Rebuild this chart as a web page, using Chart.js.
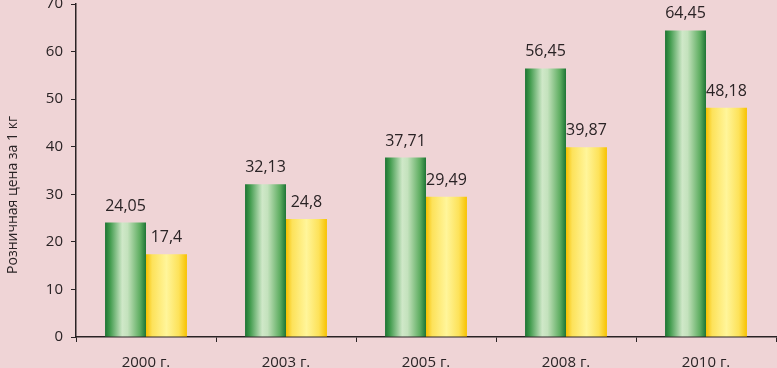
<!DOCTYPE html>
<html>
<head>
<meta charset="utf-8">
<script src="https://cdn.jsdelivr.net/npm/chart.js@4/dist/chart.umd.min.js"></script>
<style>
html,body{margin:0;padding:0;background:#efd4d6;}
#wrap{width:777px;height:368px;position:relative;}
</style>
</head>
<body>
<div id="wrap"><canvas id="c" width="777" height="368"></canvas></div>
<script>
const categories = ['2000 г.', '2003 г.', '2005 г.', '2008 г.', '2010 г.'];
const seriesGreen = [24.05, 32.13, 37.71, 56.45, 64.45];
const seriesYellow = [17.4, 24.8, 29.49, 39.87, 48.18];
const yTicks = [0, 10, 20, 30, 40, 50, 60, 70];
const yTitle = 'Розничная цена за 1 кг';

const FONT = '"Open Sans", sans-serif';
const TXT = '#2a2325';
const CAT_PCT = 0.585;

const greenStops = [[0,'#1d7433'],[0.12,'#3f9a4c'],[0.42,'#cfe8c8'],[0.55,'#c4e2bd'],[0.85,'#5fae62'],[1,'#1e7535']];
const yellowStops = [[0,'#f6c000'],[0.15,'#fde25a'],[0.5,'#fff59a'],[0.8,'#fde25a'],[1,'#f7c200']];

function barGradient(c, stops, isLeft) {
  const chart = c.chart;
  const xs = chart.scales && chart.scales.x;
  if (!xs || c.type !== 'data' || !chart.chartArea) return stops[2][1];
  const center = xs.getPixelForValue(c.dataIndex);
  const w = (xs.width / categories.length) * CAT_PCT / 2;
  const left = isLeft ? center - w : center;
  const g = chart.ctx.createLinearGradient(left, 0, left + w, 0);
  stops.forEach(s => g.addColorStop(s[0], s[1]));
  return g;
}

const valueLabels = {
  id: 'valueLabels',
  afterDatasetsDraw(chart) {
    const ctx = chart.ctx;
    ctx.save();
    ctx.font = '16px ' + FONT;
    ctx.fillStyle = TXT;
    ctx.textAlign = 'center';
    ctx.textBaseline = 'alphabetic';
    chart.data.datasets.forEach((ds, di) => {
      chart.getDatasetMeta(di).data.forEach((el, i) => {
        const txt = String(ds.data[i]).replace('.', ',');
        ctx.fillText(txt, el.x, el.y - 12);
      });
    });
    ctx.restore();
  }
};

const yTitlePlugin = {
  id: 'yTitlePlugin',
  afterDraw(chart) {
    const ctx = chart.ctx;
    ctx.save();
    ctx.translate(13, 195);
    ctx.rotate(-Math.PI / 2);
    ctx.font = '14px ' + FONT;
    ctx.fillStyle = TXT;
    ctx.textAlign = 'center';
    ctx.textBaseline = 'middle';
    ctx.fillText(yTitle, 0, 0);
    ctx.restore();
  }
};

new Chart(document.getElementById('c'), {
  type: 'bar',
  data: {
    labels: categories,
    datasets: [
      { data: seriesGreen, backgroundColor: c => barGradient(c, greenStops, true), borderWidth: 0 },
      { data: seriesYellow, backgroundColor: c => barGradient(c, yellowStops, false), borderWidth: 0 }
    ]
  },
  options: {
    responsive: false,
    animation: false,
    events: [],
    categoryPercentage: CAT_PCT,
    barPercentage: 1,
    layout: { padding: { top: 4, right: 1, left: 0, bottom: 0 } },
    plugins: { legend: { display: false }, tooltip: { enabled: false } },
    scales: {
      x: {
        grid: { display: true, drawOnChartArea: false, drawTicks: true, tickLength: 5, color: TXT, lineWidth: 1, offset: true },
        border: { display: true, color: TXT, width: 1.5 },
        ticks: { color: TXT, font: { family: FONT, size: 15 }, padding: 12, maxRotation: 0 },
        afterFit(s) { s.height = 31; s.paddingLeft = 0; s.paddingRight = 0; }
      },
      y: {
        min: 0, max: 70,
        afterBuildTicks(s) { s.ticks = yTicks.map(v => ({ value: v })); },
        grid: { display: true, drawOnChartArea: false, drawTicks: true, tickLength: 5, color: TXT, lineWidth: 1 },
        border: { display: true, color: TXT, width: 1.5 },
        ticks: { color: TXT, font: { family: FONT, size: 15 }, padding: 8 },
        afterFit(s) { s.width = 76; s.paddingTop = 0; s.paddingBottom = 0; }
      }
    }
  },
  plugins: [valueLabels, yTitlePlugin]
});
</script>
</body>
</html>
